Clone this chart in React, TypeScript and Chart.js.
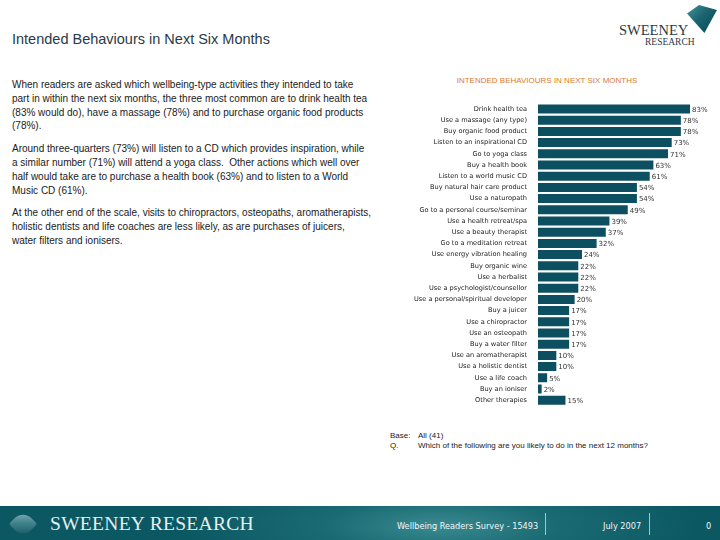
import React, { useEffect, useRef } from "react";
import { Chart, registerables } from "chart.js";

Chart.register(...registerables);

const categories: string[] = [
  "Drink health tea",
  "Use a massage (any type)",
  "Buy organic food product",
  "Listen to an inspirational CD",
  "Go to yoga class",
  "Buy a health book",
  "Listen to a world music CD",
  "Buy natural hair care product",
  "Use a naturopath",
  "Go to a personal course/seminar",
  "Use a health retreat/spa",
  "Use a beauty therapist",
  "Go to a meditation retreat",
  "Use energy vibration healing",
  "Buy organic wine",
  "Use a herbalist",
  "Use a psychologist/counsellor",
  "Use a personal/spiritual developer",
  "Buy a juicer",
  "Use a chiropractor",
  "Use an osteopath",
  "Buy a water filter",
  "Use an aromatherapist",
  "Use a holistic dentist",
  "Use a life coach",
  "Buy an ioniser",
  "Other therapies",
];

const values: number[] = [
  83, 78, 78, 73, 71, 63, 61, 54, 54, 49, 39, 37, 32, 24, 22, 22, 22, 20, 17, 17,
  17, 17, 10, 10, 5, 2, 15,
];

const chartTitle = "INTENDED BEHAVIOURS IN NEXT SIX MONTHS";

const paragraphs: string[][] = [
  [
    "When readers are asked which wellbeing-type activities they intended to take",
    "part in within the next six months, the three most common are to drink health tea",
    "(83% would do), have a massage (78%) and to purchase organic food products",
    "(78%).",
  ],
  [
    "Around three-quarters (73%) will listen to a CD which provides inspiration, while",
    "a similar number (71%) will attend a yoga class.\u00a0 Other actions which well over",
    "half would take are to purchase a health book (63%) and to listen to a World",
    "Music CD (61%).",
  ],
  [
    "At the other end of the scale, visits to chiropractors, osteopaths, aromatherapists,",
    "holistic dentists and life coaches are less likely, as are purchases of juicers,",
    "water filters and ionisers.",
  ],
];

const valueLabelPlugin = {
  id: "valueLabels",
  afterDatasetsDraw(chart: any) {
    const ctx = chart.ctx;
    const meta = chart.getDatasetMeta(0);
    ctx.save();
    ctx.font = "7px 'DejaVu Sans'";
    ctx.fillStyle = "#333333";
    ctx.textAlign = "left";
    ctx.textBaseline = "middle";
    meta.data.forEach((bar: any, i: number) => {
      ctx.fillText(values[i] + "%", bar.x + 2, bar.y + 1);
    });
    ctx.restore();
  },
};

function BarChart() {
  const ref = useRef<HTMLCanvasElement | null>(null);
  useEffect(() => {
    if (!ref.current) return;
    const chart = new Chart(ref.current, {
      type: "bar",
      data: {
        labels: categories,
        datasets: [
          {
            data: values,
            backgroundColor: "#0b4f60",
            borderWidth: 0,
            categoryPercentage: 1,
            barPercentage: 0.8,
          },
        ],
      },
      options: {
        indexAxis: "y",
        animation: false,
        responsive: false,
        devicePixelRatio: 1,
        layout: { padding: { left: 0, right: 8, top: 8.4, bottom: 9.2 } },
        plugins: {
          legend: { display: false },
          tooltip: { enabled: false },
          title: { display: false },
        },
        scales: {
          x: { display: false, min: 0, max: 95 },
          y: {
            grid: { display: false },
            border: { display: false },
            ticks: {
              autoSkip: false,
              padding: 3,
              color: "#222222",
              font: { family: "'DejaVu Sans'", size: 6.6 },
            },
            afterFit(scale: any) {
              scale.width = 138;
            },
          },
        },
      },
      plugins: [valueLabelPlugin],
    });
    return () => chart.destroy();
  }, []);
  return (
    <canvas
      ref={ref}
      width={320}
      height={320}
      style={{ position: "absolute", left: 400, top: 95, width: 320, height: 320 }}
    />
  );
}

export default function App() {
  const para: React.CSSProperties = { margin: "0 0 9px 0" };
  const footText: React.CSSProperties = {
    position: "absolute",
    top: 15,
    fontFamily: "'DejaVu Sans', sans-serif",
    fontSize: 8.2,
    color: "#f2f6f6",
    whiteSpace: "nowrap",
  };
  return (
    <div
      style={{
        position: "fixed",
        left: 0,
        top: 0,
        width: 720,
        height: 540,
        background: "#ffffff",
        overflow: "hidden",
        fontFamily: "'Liberation Sans', Arial, sans-serif",
      }}
    >
      <div
        style={{
          position: "absolute",
          left: 12,
          top: 31,
          fontSize: 14.5,
          color: "#2a3a46",
          whiteSpace: "nowrap",
        }}
      >
        Intended Behaviours in Next Six Months
      </div>

      {/* top-right logo */}
      <div
        style={{
          position: "absolute",
          left: 687,
          top: 5,
          width: 30,
          height: 28,
          clipPath: "polygon(40% 0%, 100% 18%, 58% 100%, 0% 30%)",
          background: "linear-gradient(135deg, #4a939c 0%, #1a6470 45%, #0a4654 100%)",
        }}
      />
      <div
        style={{
          position: "absolute",
          left: 619,
          top: 22,
          fontFamily: "'Liberation Serif', serif",
          fontSize: 14.5,
          color: "#2c3a45",
          whiteSpace: "nowrap",
          lineHeight: "16px",
        }}
      >
        SWEENEY
      </div>
      <div
        style={{
          position: "absolute",
          left: 645,
          top: 37,
          fontFamily: "'Liberation Serif', serif",
          fontSize: 9.5,
          color: "#2c3a45",
          whiteSpace: "nowrap",
          lineHeight: "11px",
        }}
      >
        RESEARCH
      </div>

      <div
        style={{
          position: "absolute",
          left: 12,
          top: 78,
          fontSize: 10,
          lineHeight: "13.8px",
          color: "#1a1a1a",
          whiteSpace: "nowrap",
        }}
      >
        {paragraphs.map((lines, pi) => (
          <p key={pi} style={para}>
            {lines.map((ln, li) => (
              <React.Fragment key={li}>
                {ln}
                {li < lines.length - 1 ? <br /> : null}
              </React.Fragment>
            ))}
          </p>
        ))}
      </div>

      <div
        style={{
          position: "absolute",
          left: 380,
          width: 334,
          top: 76,
          textAlign: "center",
          fontSize: 8,
          color: "#e07a2e",
          whiteSpace: "nowrap",
        }}
      >
        {chartTitle}
      </div>

      <BarChart />

      <div
        style={{
          position: "absolute",
          left: 390,
          top: 431,
          fontSize: 8,
          lineHeight: "10px",
          color: "#222222",
          whiteSpace: "nowrap",
        }}
      >
        <div>
          <span style={{ display: "inline-block", width: 28 }}>Base:</span>All (41)
        </div>
        <div>
          <span style={{ display: "inline-block", width: 28 }}>Q.</span>Which of the
          following are you likely to do in the next 12 months?
        </div>
      </div>

      {/* footer */}
      <div
        style={{
          position: "absolute",
          left: 0,
          top: 506,
          width: 720,
          height: 34,
          background:
            "radial-gradient(ellipse 260px 60px at 440px 20px, #3a8a90 0%, #1a6a73 45%, #0b5863 100%)",
        }}
      >
        <div
          style={{
            position: "absolute",
            left: 13,
            top: 8,
            width: 20,
            height: 20,
            borderRadius: "60% 10% 60% 10%",
            transform: "rotate(45deg)",
            background: "linear-gradient(135deg, #8ab7bd 0%, #3d7f89 50%, #124f5a 100%)",
          }}
        />
        <div
          style={{
            position: "absolute",
            left: 50,
            top: 7,
            fontFamily: "'Liberation Serif', serif",
            fontSize: 19.5,
            color: "#e4eeee",
            whiteSpace: "nowrap",
            letterSpacing: 0.3,
          }}
        >
          SWEENEY RESEARCH
        </div>
        <div style={{ ...footText, left: 397 }}>Wellbeing Readers Survey - 15493</div>
        <div
          style={{
            position: "absolute",
            left: 545,
            top: 7,
            width: 1,
            height: 22,
            background: "#c8c860",
          }}
        />
        <div style={{ ...footText, left: 603 }}>July 2007</div>
        <div
          style={{
            position: "absolute",
            left: 649,
            top: 7,
            width: 1,
            height: 22,
            background: "#c8c860",
          }}
        />
        <div style={{ ...footText, left: 706 }}>0</div>
      </div>
    </div>
  );
}
